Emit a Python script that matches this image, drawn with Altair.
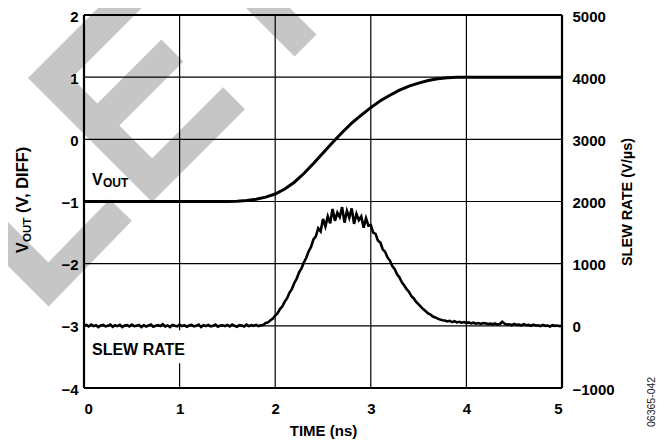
import altair as alt
import pandas as pd

# ---------------- data ----------------
time_ticks = [0, 1, 2, 3, 4, 5]
vout_ticks = [-4, -3, -2, -1, 0, 1, 2]
slew_ticks = [-1000, 0, 1000, 2000, 3000, 4000, 5000]

# V_OUT (V, DIFF), sampled every 0.1 ns
vout_time = [round(i * 0.1, 2) for i in range(51)]
vout_values = [
    -1.0, -1.0, -1.0, -1.0, -1.0, -1.0, -1.0, -1.0, -1.0, -1.0,
    -1.0, -1.0, -1.0, -1.0, -1.0, -1.0, -0.995, -0.985, -0.965, -0.93,
    -0.88, -0.80, -0.69, -0.55, -0.39, -0.22, -0.05, 0.11, 0.26, 0.39,
    0.51, 0.62, 0.71, 0.79, 0.855, 0.905, 0.945, 0.975, 0.992, 1.0,
    1.0, 1.0, 1.0, 1.0, 1.0, 1.0, 1.0, 1.0, 1.0, 1.0,
    1.0,
]

# SLEW RATE (V/us), sampled every 0.025 ns
slew_time = [round(i * 0.025, 3) for i in range(201)]
slew_values = [
    # 0 .. 1.85 ns
    0, 15, -10, 20, -5, 10, -20, 5, 15, -10, 0, 20, -15, 10, -5,
    15, -20, 5, 10, -10, 20, -5, 0, 15, -20, 10, -10, 5, 20, -15,
    0, 10, -5, 25, -10, 5, -20, 15, 0, -10, 20, -5, 10, -15, 5,
    15, -10, 0, 20, -20, 10, -5, 15, -10, 0, 20, -15, 5, 10, -5,
    15, -10, 20, 0, -15, 10, 5, -10, 20, -5, 10, 0, 15, -5, 10,
    # 1.875 .. 3.75 ns
    15, 45, 55, 90, 115, 165, 205, 270, 315, 390,
    445, 535, 595, 690, 760, 860, 925, 1020, 1095, 1200,
    1270, 1390, 1440, 1570, 1520, 1720, 1600, 1760, 1650, 1880,
    1690, 1820, 1750, 1910, 1660, 1850, 1740, 1890, 1640, 1800,
    1700, 1760, 1580, 1730, 1610, 1620, 1500, 1480, 1370, 1340,
    1230, 1190, 1100, 1050, 960, 910, 830, 780, 700, 650,
    590, 545, 475, 440, 385, 345, 305, 265, 235, 200,
    180, 150, 135, 115, 100, 90,
    # 3.775 .. 5.0 ns
    85, 70, 80, 60, 75, 55, 65, 50, 60, 45,
    55, 40, 50, 35, 45, 30, 45, 40, 30, 35,
    25, 40, 20, 30, 65, 35, 20, 25, 10, 30,
    15, 20, 5, 25, 10, 15, 0, 20, 5, 10,
    -5, 15, 0, 5, -10, 10, 0, 5, -5, 0,
]

# background watermark strokes (time, V_OUT units)
wm_seg = [0, 0, 0, 0, 1, 1, 2, 2, 3, 3, 3]
wm_time = [0.564, -0.357, 0.712, 1.569, 0.924, 0.140, 2.317, 1.736, -0.999, -0.371, 0.385]
wm_vout = [2.402, 0.987, -0.657, 0.660, 1.429, 0.223, 1.509, 2.402, -1.370, -2.335, -1.137]

# white patch behind the "SLEW RATE" label (time, V_OUT units)
patch_time = [0.03, 1.12]
patch_vout = [-3.60, -3.07]

# ---------------- styling ----------------
FONT = "Liberation Sans"
W, H = 478, 373

xs = alt.Scale(domain=[0, 5], nice=False, zero=False)
vs = alt.Scale(domain=[-4, 2], nice=False, zero=False)
ss = alt.Scale(domain=[-1000, 5000], nice=False, zero=False)

x_axis = alt.Axis(
    values=time_ticks, format="d", title="TIME (ns)", grid=False, domain=False,
    ticks=False, tickSize=0, labelPadding=13, labelFont=FONT, labelFontSize=15,
    labelFontWeight="bold", labelColor="black", titleFont=FONT, titleFontSize=15,
    titleFontWeight="bold", titleColor="black", titlePadding=7, zindex=1,
)
left_axis = alt.Axis(
    orient="left", values=vout_ticks, format="d", title=None, grid=False, domain=False,
    ticks=False, tickSize=0, labelPadding=6, labelFont=FONT, labelFontSize=15,
    labelFontWeight="bold", labelColor="black", labelOffset=1, zindex=1,
)
right_axis = alt.Axis(
    orient="right", values=slew_ticks, format="d", title="SLEW RATE (V/µs)",
    grid=False, domain=False, ticks=False, tickSize=0, labelPadding=10,
    labelFont=FONT, labelFontSize=15, labelFontWeight="bold", labelColor="black",
    labelOffset=1, titleFont=FONT, titleFontSize=14.5, titleFontWeight="bold",
    titleColor="black", titleAngle=270, titlePadding=20, zindex=1,
)

X = lambda f: alt.X(f"{f}:Q", scale=xs, axis=x_axis)
YV = lambda f: alt.Y(f"{f}:Q", scale=vs, axis=None)

# ---------------- layers ----------------
wm_df = pd.DataFrame({"seg": wm_seg, "t": wm_time, "v": wm_vout,
                      "ord": list(range(len(wm_seg)))})
watermark = alt.Chart(wm_df).mark_line(
    color="#c6c6c6", strokeWidth=31, strokeCap="butt", strokeJoin="miter", clip=False
).encode(x=X("t"), y=YV("v"), detail="seg:N", order="ord:Q")

vgrid = alt.Chart(pd.DataFrame({"gx": time_ticks[1:-1]})).mark_rule(
    color="black", strokeWidth=1.2).encode(x=X("gx"))
hgrid = alt.Chart(pd.DataFrame({"gy": vout_ticks[1:-1]})).mark_rule(
    color="black", strokeWidth=1.2).encode(y=YV("gy"))
vborder = alt.Chart(pd.DataFrame({"gx": [time_ticks[0], time_ticks[-1]]})).mark_rule(
    color="black", strokeWidth=2.2).encode(x=X("gx"))
hborder = alt.Chart(pd.DataFrame({"gy": [vout_ticks[0], vout_ticks[-1]]})).mark_rule(
    color="black", strokeWidth=2.2).encode(y=YV("gy"))

patch = alt.Chart(pd.DataFrame({"x0": [patch_time[0]], "x1": [patch_time[1]],
                                "y0": [patch_vout[0]], "y1": [patch_vout[1]]})).mark_rect(
    color="white").encode(x=X("x0"), x2="x1:Q", y=YV("y0"), y2="y1:Q")

one = pd.DataFrame({"k": [0]})


def label(text, px, py, size, angle=0, weight="bold", color="black"):
    kw = dict(text=text, font=FONT, fontSize=size, fontWeight=weight, color=color,
              align="left", baseline="alphabetic")
    if angle:
        kw["angle"] = angle
    return alt.Chart(one).mark_text(**kw).encode(x=alt.value(px), y=alt.value(py))


texts = [
    label("V", 8, 170, 16),
    label("OUT", 19, 171.5, 12),
    label("SLEW RATE", 8, 340, 16),
    label("V", -56, 238, 16, angle=270),
    label("OUT", -53.5, 227, 11.5, angle=270),
    label("(V, DIFF)", -56, 198, 16.5, angle=270),
    label("06365-042", 571, 412, 10.5, angle=270, weight="normal", color="#222222"),
]

vout_line = alt.Chart(pd.DataFrame({"t": vout_time, "v": vout_values})).mark_line(
    color="black", strokeWidth=3).encode(
    x=X("t"), y=alt.Y("v:Q", scale=vs, axis=left_axis))

slew_line = alt.Chart(pd.DataFrame({"t": slew_time, "s": slew_values})).mark_line(
    color="black", strokeWidth=2.6).encode(
    x=X("t"), y=alt.Y("s:Q", scale=ss, axis=right_axis))

chart = alt.layer(
    watermark, vgrid, hgrid, vborder, hborder, patch, *texts, vout_line, slew_line
).resolve_scale(y="independent").properties(
    width=W, height=H,
    autosize=alt.AutoSizeParams(type="none"),
    padding={"left": 76, "top": 7, "right": 99, "bottom": 55},
).configure_view(strokeWidth=0)

chart.save("out.html", embed_options={"renderer": "svg", "actions": False})
